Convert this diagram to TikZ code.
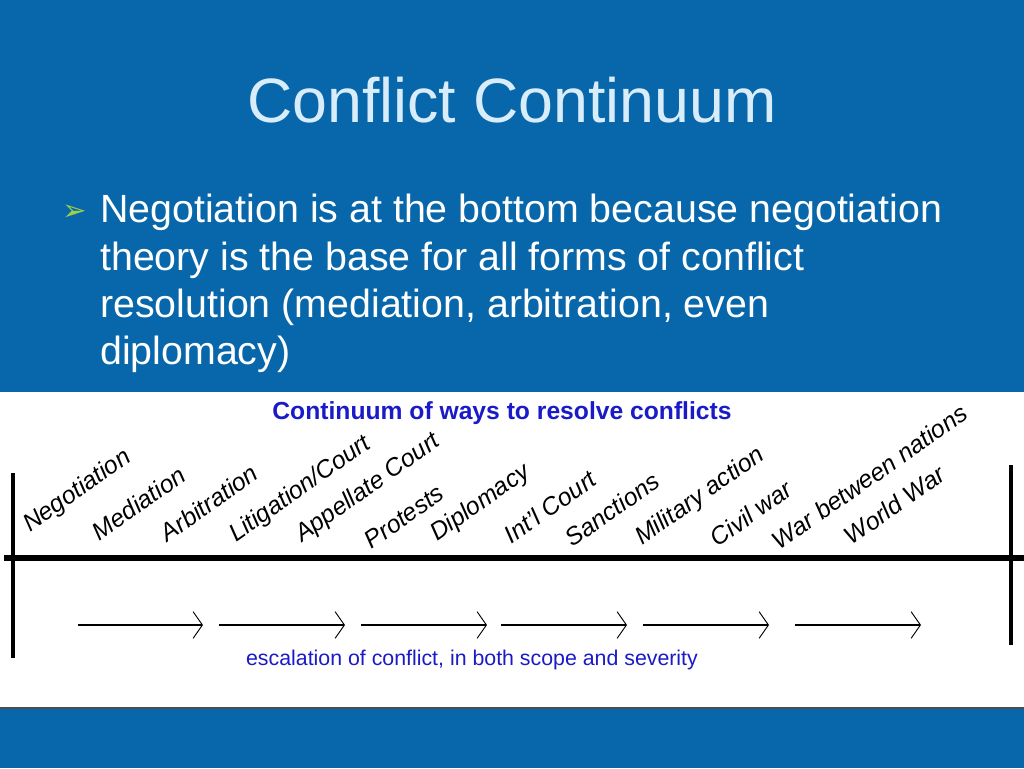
\documentclass[tikz,border=0pt]{standalone}
\usepackage{fontspec}
\setmainfont{Liberation Sans}
\newfontfamily\symfont{DejaVu Sans}
\usetikzlibrary{arrows.meta}
\definecolor{slideblue}{HTML}{0767AA}
\definecolor{titlec}{HTML}{D8ECFA}
\definecolor{labblue}{HTML}{1A1AC8}
\definecolor{bullc}{HTML}{9BD14A}
\tikzset{lab/.style={anchor=south west,rotate=35,inner sep=0pt,font=\fontsize{18.5}{18.5}\selectfont\itshape},
 esc/.style={line width=0.9pt,-{Straight Barb[length=7pt,width=20pt,line width=0.7pt]}},
 body/.style={anchor=west,text=white,font=\fontsize{29.5}{29.5}\selectfont,inner sep=0pt}}
\begin{document}
\begin{tikzpicture}[x=0.75pt,y=-0.75pt]
\useasboundingbox (0,0) rectangle (1024,768);
\fill[slideblue] (0,0) rectangle (1024,392);
\fill[white] (0,392) rectangle (1024,708);
\fill[slideblue] (0,708) rectangle (1024,768);
\draw[black!70,line width=1pt] (0,708) -- (1024,708);
\node[text=titlec,font=\fontsize{47}{47}\selectfont] (title) at (512,100) {Conflict Continuum};
\node[text=bullc,font=\symfont\fontsize{22}{22}\selectfont,anchor=west,inner sep=0pt] (bul) at (62,213) {➢};
\node[body] (l1) at (100,212) {Negotiation is at the bottom because negotiation};
\node[body] (l2) at (100,260) {theory is the base for all forms of conflict};
\node[body] (l3) at (100,307) {resolution (mediation, arbitration, even};
\node[body] (l4) at (100,354) {diplomacy)};
\node[text=labblue,font=\fontsize{18.5}{18.5}\selectfont\bfseries] (ct) at (502,413) {Continuum of ways to resolve conflicts};
\draw[line width=4pt] (4,558) -- (1024,558);
\draw[line width=3.5pt] (13,473) -- (13,658);
\draw[line width=3.5pt] (1011,465) -- (1011,645);
\node[lab] (n1) at (33,537) {Negotiation};
\node[lab] (n2) at (100,542) {Mediation};
\node[lab] (n3) at (168,543) {Arbitration};
\node[lab] (n4) at (239,547) {Litigation/Court};
\node[lab] (n5) at (305,547) {Appellate Court};
\node[lab] (n6) at (372,550) {Protests};
\node[lab] (n7) at (440,546) {Diplomacy};
\node[lab] (n8) at (512,545) {Int'l Court};
\node[lab] (n9) at (573,548) {Sanctions};
\node[lab] (n10) at (645,550) {Military action};
\node[lab] (n11) at (718,548) {Civil war};
\node[lab] (n12) at (780,551) {War between nations};
\node[lab] (n13) at (852,546) {World War};
\foreach \i/\a/\b in {1/78/203,2/219/345,3/361/487,4/501/627,5/643/769,6/795/921}{
  \coordinate (s\i) at (\a,625); \coordinate (e\i) at (\b,625);
  \draw[esc] (s\i) -- (e\i);}
\node[text=labblue,font=\fontsize{16}{16}\selectfont] (esct) at (472,660) {escalation of conflict, in both scope and severity};
\end{tikzpicture}
\end{document}
